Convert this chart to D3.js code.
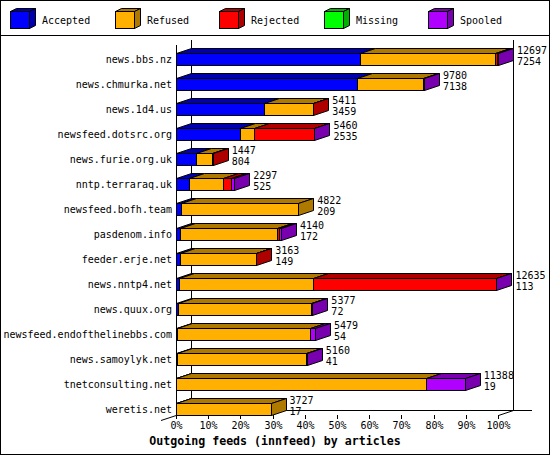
<!DOCTYPE html>
<html>
<head>
<meta charset="utf-8">
<script src="https://cdn.jsdelivr.net/npm/d3@7"></script>
<style>
    body { margin: 0; background: #fff; }
    svg text { font-family: "DejaVu Sans Mono", "Liberation Mono", monospace; font-size: 10px; fill: #000; }
</style>
</head>
<body>
<svg id="chart" width="550" height="455"></svg>
<script>
// feeds, top to bottom
const feeds = [
    "news.bbs.nz", "news.chmurka.net", "news.1d4.us", "newsfeed.dotsrc.org",
    "news.furie.org.uk", "nntp.terraraq.uk", "newsfeed.bofh.team", "pasdenom.info",
    "feeder.erje.net", "news.nntp4.net", "news.quux.org", "newsfeed.endofthelinebbs.com",
    "news.samoylyk.net", "tnetconsulting.net", "weretis.net"
];

// article counts per feed
const accepted = [7254, 7138, 3459, 2535, 804, 525, 209, 172, 149, 113, 72, 54, 41, 19, 17];
const refused = [5340, 2620, 1930, 540, 630, 1345, 4613, 3813, 2994, 5277, 5256, 5232, 5100, 9830, 3710];
const rejected = [80, 0, 22, 2370, 13, 293, 0, 91, 20, 7226, 0, 0, 0, 0, 0];
const missing = [0, 0, 0, 0, 0, 0, 0, 0, 0, 0, 0, 0, 0, 0, 0];
const spooled = [23, 22, 0, 15, 0, 134, 0, 64, 0, 19, 49, 193, 19, 1539, 0];

const legendNames = ["Accepted", "Refused", "Rejected", "Missing", "Spooled"];
const legendColors = ["#0000ff", "#ffb000", "#ff0000", "#00ff00", "#b000ff"];
const tickValues = [0, 10, 20, 30, 40, 50, 60, 70, 80, 90, 100];

const series = [accepted, refused, rejected, missing, spooled];

let rows = feeds.map((name, i) => {
    let segs = [];
    let start = 0;
    series.forEach((s, k) => {
        segs.push({ k: k, x0: start, x1: start + s[i], v: s[i] });
        start += s[i];
    });
    return { name: name, total: start, accepted: accepted[i], segs: segs.filter(d => d.v > 0) };
});

let svg = d3.select("#chart");

// 3d offsets
let dx = 15, dy = 5;

let maxTotal = d3.max(rows, d => d.total);
let x = d3.scaleLinear().domain([0, maxTotal]).range([176, 498]);
let xPct = d3.scaleLinear().domain([0, 100]).range([176, 498]);
let y = d3.scaleBand().domain(feeds).range([40, 415]);

function dark(c) {
    return d3.color(c).darker(1.05).formatHex();
}

// frame + legend separator
svg.append("rect")
    .attr("x", 0.5).attr("y", 0.5)
    .attr("width", 549).attr("height", 454)
    .attr("fill", "none").attr("stroke", "#000");
svg.append("line")
    .attr("x1", 0).attr("x2", 550)
    .attr("y1", 35.5).attr("y2", 35.5)
    .attr("stroke", "#000");

// legend
let legend = svg.append("g").selectAll("g")
    .data(legendNames)
    .enter().append("g")
    .attr("transform", (d, i) => "translate(" + Math.round(10 + i * 104.5) + ",0)");

legend.append("path")
    .attr("d", "M10.5,11.5 L16.5,8.5 L35.5,8.5 L29.5,11.5 Z")
    .attr("fill", (d, i) => dark(legendColors[i]))
    .attr("stroke", "#000")
    .attr("transform", "translate(-10,0)");
legend.append("path")
    .attr("d", "M29.5,11.5 L35.5,8.5 L35.5,25.5 L29.5,28.5 Z")
    .attr("fill", (d, i) => dark(legendColors[i]))
    .attr("stroke", "#000")
    .attr("transform", "translate(-10,0)");
legend.append("rect")
    .attr("x", 0.5).attr("y", 11.5)
    .attr("width", 19).attr("height", 17)
    .attr("fill", (d, i) => legendColors[i])
    .attr("stroke", "#000");
legend.append("text")
    .attr("x", 32).attr("y", 20)
    .attr("dy", "0.35em")
    .text(d => d);

// axes box
let axes = svg.append("g").attr("stroke", "#000").attr("shape-rendering", "crispEdges");
axes.append("line").attr("x1", 176.5).attr("x2", 176.5).attr("y1", 45).attr("y2", 415);
axes.append("line").attr("x1", 191.5).attr("x2", 191.5).attr("y1", 40).attr("y2", 411);
axes.append("line").attr("x1", 513.5).attr("x2", 513.5).attr("y1", 40).attr("y2", 411);
axes.append("line").attr("x1", 191).attr("x2", 532).attr("y1", 410.5).attr("y2", 410.5);
svg.append("line")
    .attr("x1", 191.5).attr("y1", 410.5).attr("x2", 161).attr("y2", 420.5)
    .attr("stroke", "#000");
svg.append("line")
    .attr("x1", xPct(100) + 0.5).attr("y1", 415.5)
    .attr("x2", xPct(100) + dx + 0.5).attr("y2", 410.5)
    .attr("stroke", "#000");

// ticks
let ticks = svg.append("g").selectAll("g")
    .data(tickValues)
    .enter().append("g")
    .attr("transform", d => "translate(" + (Math.round(xPct(d)) + 0.5) + ",0)");
ticks.append("line")
    .attr("y1", 415).attr("y2", 419)
    .attr("stroke", "#000")
    .attr("shape-rendering", "crispEdges");
ticks.append("text")
    .attr("y", 425)
    .attr("dy", "0.35em")
    .attr("text-anchor", "middle")
    .text(d => d + "%");

// category labels
svg.append("g").selectAll("text")
    .data(rows)
    .enter().append("text")
    .attr("x", 172)
    .attr("y", d => y(d.name) + 19)
    .attr("dy", "0.35em")
    .attr("text-anchor", "end")
    .text(d => d.name);

// bars
let bar = svg.append("g").selectAll("g")
    .data(rows)
    .enter().append("g")
    .attr("transform", d => "translate(0," + (y(d.name) + 13) + ")");

bar.each(function (d) {
    let g = d3.select(this);
    let h = 12;
    d.segs.forEach((s, j) => {
        let x0 = Math.round(x(s.x0)) + 0.5;
        let x1 = Math.round(x(s.x1)) + 0.5;
        let c = legendColors[s.k];
        // top face
        g.append("path")
            .attr("d", `M${x0},0.5 L${x0 + dx},${0.5 - dy} L${x1 + dx},${0.5 - dy} L${x1},0.5 Z`)
            .attr("fill", dark(c))
            .attr("stroke", "#000");
        // front
        g.append("rect")
            .attr("x", x0).attr("y", 0.5)
            .attr("width", Math.max(0, x1 - x0)).attr("height", h)
            .attr("fill", c)
            .attr("stroke", "#000");
        // side of last segment
        if (j == d.segs.length - 1) {
            g.append("path")
                .attr("d", `M${x1},0.5 L${x1 + dx},${0.5 - dy} L${x1 + dx},${0.5 + h - dy} L${x1},${0.5 + h} Z`)
                .attr("fill", dark(c))
                .attr("stroke", "#000");
        }
    });
    let xEnd = x(d.total) + dx + 4;
    g.append("text")
        .attr("x", xEnd).attr("y", -3)
        .attr("dy", "0.35em")
        .text(d.total);
    g.append("text")
        .attr("x", xEnd).attr("y", 8)
        .attr("dy", "0.35em")
        .text(d.accepted);
});

// title
svg.append("text")
    .attr("x", 275).attr("y", 441)
    .attr("dy", "0.35em")
    .attr("text-anchor", "middle")
    .style("font-size", "11.6px")
    .style("font-weight", "bold")
    .text("Outgoing feeds (innfeed) by articles");
</script>
</body>
</html>
